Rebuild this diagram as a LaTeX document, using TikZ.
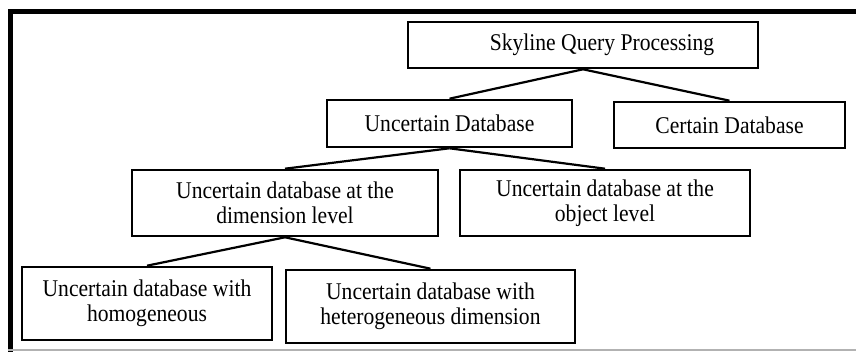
\documentclass[tikz,border=0pt]{standalone}
\usepackage{fontspec}
\setmainfont{Liberation Serif}[FakeStretch=0.9]
\begin{document}
\begin{tikzpicture}[x=1pt,y=-1pt,
  box/.style={draw, line width=2.6pt, inner sep=0pt, align=center,
    font=\fontsize{24}{25}\selectfont},
  link/.style={line width=2.2pt}]
\useasboundingbox (0,0) rectangle (856,352);
\draw[line width=5pt] (856,12) -- (10,12) -- (10,352);
\draw[black!30, line width=1.5pt] (8,350) -- (856,350);
\node[box, minimum width=350pt, minimum height=46pt] (sky) at (583,45) {\hspace*{38pt}Skyline Query Processing};
\node[box, minimum width=245pt, minimum height=47pt] (ud) at (449.5,123.5) {Uncertain Database};
\node[box, minimum width=231pt, minimum height=46pt] (cd) at (729.5,125) {Certain Database};
\node[box, minimum width=306pt, minimum height=66pt] (dl) at (285,203) {Uncertain database at the\\dimension level};
\node[box, minimum width=290pt, minimum height=66pt] (ol) at (605,203) {Uncertain database at the\\object level};
\node[box, minimum width=250pt, minimum height=73pt] (ho) at (147,303.5) {Uncertain database with\\homogeneous};
\node[box, minimum width=289pt, minimum height=73pt] (he) at (430.5,306.5) {Uncertain database with\\heterogeneous dimension};
\draw[link] (sky.south) -- (ud.north);
\draw[link] (sky.south) -- (cd.north);
\draw[link] (ud.south) -- (dl.north);
\draw[link] (ud.south) -- (ol.north);
\draw[link] (dl.south) -- (ho.north);
\draw[link] (dl.south) -- (he.north);
\end{tikzpicture}
\end{document}
